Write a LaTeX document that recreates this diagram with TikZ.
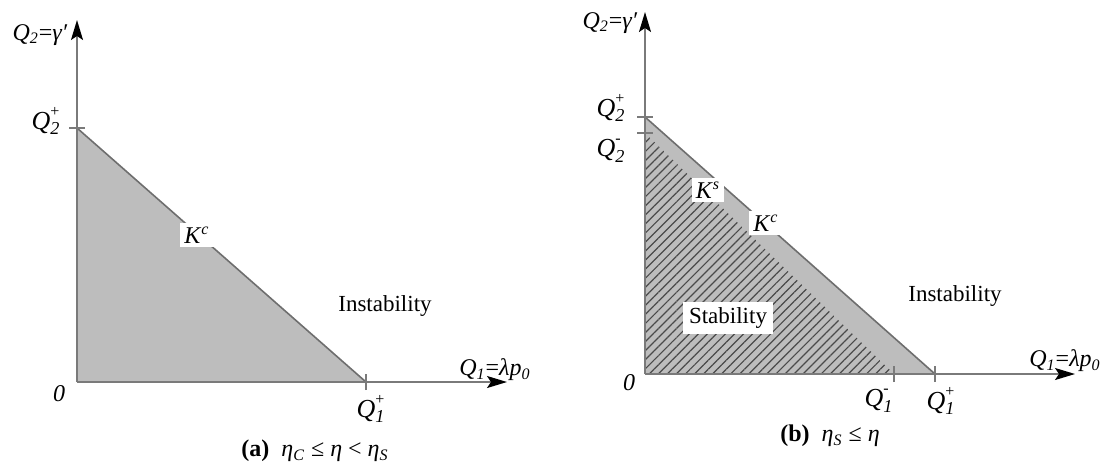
\documentclass[tikz,border=0pt]{standalone}
\usepackage{amsmath}
\usepackage{fontspec}
\setmainfont{Liberation Serif}
\usepackage{tikz}
\usetikzlibrary{arrows.meta,patterns.meta}
\definecolor{regiongray}{HTML}{BDBDBD}
\definecolor{axisgray}{HTML}{7A7A7A}
\definecolor{hatchgray}{HTML}{4A4A4A}
\newcommand{\qlab}[2]{$\text{\itshape Q}_{\text{\itshape #1}}^{\raisebox{1pt}{\text{\footnotesize #2}}}$}
\newcommand{\qaxis}[2]{\textit{Q}\textsubscript{\textit{#1}}=\textit{#2}}

\begin{document}
\begin{tikzpicture}[x=0.5pt, y=-0.5pt,
    every node/.style={font=\fontsize{12}{14}\selectfont, inner sep=0.5pt},
    axis/.style={-{Stealth[length=10pt,width=6pt,inset=2pt,black]}, draw=axisgray, line width=0.8pt},
    tick/.style={draw=axisgray, line width=0.7pt},
    region/.style={fill=regiongray},
    edge/.style={draw=hatchgray!80, line width=0.8pt},
    hatch/.style={pattern={Lines[angle=45,distance=3.2pt,line width=0.6pt]}, pattern color=hatchgray},
    tag/.style={fill=white, inner sep=2pt},
    word/.style={font=\fontsize{11.5}{14}\selectfont},
    qmark/.style={font=\fontsize{13}{15}\selectfont}]
\useasboundingbox (0,0) rectangle (1113,462);
% (a) left diagram
\coordinate (oa) at (77,382);
\coordinate (ya) at (77,20);
\coordinate (xa) at (507,382);
\coordinate (qa2) at (77,128);
\coordinate (qa1) at (366,382);
\fill[region] (oa) -- (qa2) -- (qa1) -- cycle;
\draw[edge] (qa2) -- (qa1);
\draw[axis] (oa) -- (ya);
\draw[axis] (oa) -- (xa);
\draw[tick] ([xshift=-4pt]qa2) -- ([xshift=4pt]qa2);
\draw[tick] ([yshift=-4pt]qa1) -- ([yshift=4pt]qa1);
\node (ylaba) at (40,35) {\qaxis{2}{γ′}};
\node (xlaba) at (495,370) {\qaxis{1}{λp\textsubscript{0}}};
\node[qmark] (q2pa) at (46,121) {\qlab{2}{+}};
\node[qmark] (q1pa) at (371,409) {\qlab{1}{+}};
\node (zeroa) at (59,394) {\textit{0}};
\node[tag] (kca) at (197,235) {\textit{K}\textsuperscript{\textit{c}}};
\node[word] (insta) at (385,306) {Instability};
\node (capa) at (315,451) {\textbf{(a)}\ \ \textit{η}\textsubscript{\textit{C}} ≤ \textit{η} < \textit{η}\textsubscript{\textit{S}}};
% (b) right diagram
\coordinate (ob) at (645,374);
\coordinate (yb) at (645,12);
\coordinate (xb) at (1075,374);
\coordinate (qbp2) at (645,117);
\coordinate (qbm2) at (645,133);
\coordinate (qbm1) at (894,374);
\coordinate (qbp1) at (935,374);
\fill[region] (ob) -- (qbp2) -- (qbp1) -- cycle;
\fill[hatch] (ob) -- (qbm2) -- (qbm1) -- cycle;
\draw[edge] (qbp2) -- (qbp1);
\draw[axis] (ob) -- (yb);
\draw[axis] (ob) -- (xb);
\draw[tick] ([xshift=-4pt]qbp2) -- ([xshift=4pt]qbp2);
\draw[tick] ([xshift=-4pt]qbm2) -- ([xshift=4pt]qbm2);
\draw[tick] ([yshift=-4pt]qbm1) -- ([yshift=4pt]qbm1);
\draw[tick] ([yshift=-4pt]qbp1) -- ([yshift=4pt]qbp1);
\node (ylabb) at (610,23) {\qaxis{2}{γ′}};
\node (xlabb) at (1065,361) {\qaxis{1}{λp\textsubscript{0}}};
\node[qmark] (q2pb) at (611,108) {\qlab{2}{+}};
\node[qmark] (q2mb) at (611,151) {\qlab{2}{-}};
\node[qmark] (q1mb) at (879,401) {\qlab{1}{-}};
\node[qmark] (q1pb) at (941,401) {\qlab{1}{+}};
\node (zerob) at (629,383) {\textit{0}};
\node[tag] (ksb) at (708,190) {\textit{K}\textsuperscript{\textit{s}}};
\node[tag] (kcb) at (766,223) {\textit{K}\textsuperscript{\textit{c}}};
\node[tag, word, inner sep=3pt] (stabb) at (728,318) {Stability};
\node[word] (instb) at (955,296) {Instability};
\node (capb) at (830,436) {\textbf{(b)}\ \ \textit{η}\textsubscript{\textit{S}} ≤ \textit{η}};
\end{tikzpicture}
\end{document}
